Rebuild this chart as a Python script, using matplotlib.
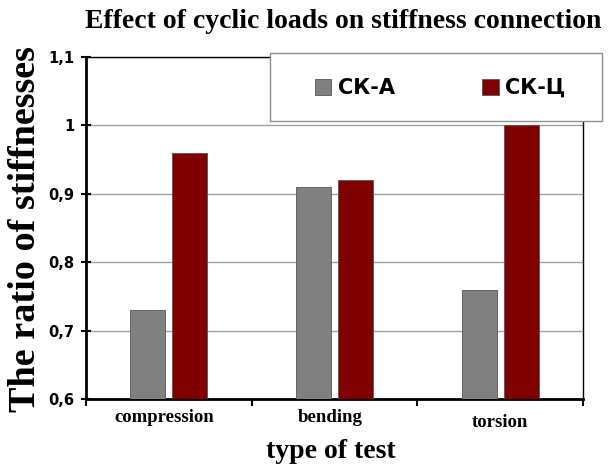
import numpy as np
import matplotlib
matplotlib.use("Agg")
import matplotlib.pyplot as plt
import matplotlib.transforms as mtransforms
from matplotlib.patches import Rectangle

# data
tests = ['compression', 'bending', 'torsion']
series = ['СК-А', 'СК-Ц']
ck_a = [0.73, 0.91, 0.76]
ck_c = [0.96, 0.92, 1.00]
yticks = [0.6, 0.7, 0.8, 0.9, 1.0, 1.1]
ytick_labels = ['0,6', '0,7', '0,8', '0,9', '1', '1,1']

colors = ['#808080', '#800000']
serif = 'Liberation Serif'

fig = plt.figure(figsize=(6.08, 4.70), dpi=100)
ax = fig.add_axes([86/608, 1-399/470, 497/608, 342/470])

x = np.arange(len(tests)) + 0.5
w = 0.21
b1 = ax.bar(x - 0.127, np.array(ck_a) - 0.6, w, bottom=0.6, color=colors[0],
            edgecolor='#555555', linewidth=0.6, zorder=3, label=series[0])
b2 = ax.bar(x + 0.127, np.array(ck_c) - 0.6, w, bottom=0.6, color=colors[1],
            edgecolor='#555555', linewidth=0.6, zorder=3, label=series[1])

ax.set_xlim(0, 3)
ax.set_ylim(0.6, 1.1)
ax.set_yticks(yticks)
ax.set_yticklabels(ytick_labels, fontsize=10.5, fontweight='bold', family='DejaVu Sans')
ax.yaxis.grid(True, color='#a0a0a0', linewidth=1.0, zorder=0)
ax.set_axisbelow(True)

ax.set_xticks([0, 1, 2, 3])
ax.set_xticklabels([])
ax.set_xticks(x, minor=True)
ax.set_xticklabels(tests, minor=True, fontsize=13.5, fontweight='bold', family=serif)
ax.tick_params(axis='x', which='minor', length=0, pad=7)
ax.tick_params(axis='x', which='major', direction='out', length=5, width=1.5)
ax.tick_params(axis='y', direction='inout', length=7, width=1.5, pad=5)

# small shifts of the category labels as in the reference
shifts = [(-5, 0), (-4, 0), (0, -5)]
for lab, (dx, dy) in zip(ax.get_xticklabels(minor=True), shifts):
    lab.set_transform(lab.get_transform() + mtransforms.ScaledTranslation(dx/100, dy/100, fig.dpi_scale_trans))

for s in ['left', 'bottom']:
    ax.spines[s].set_linewidth(2)
for s in ['top', 'right']:
    ax.spines[s].set_linewidth(1)

fig.text(343/608, 1-22/470, 'Effect of cyclic loads on stiffness connection',
         ha='center', va='center', fontsize=20, fontweight='bold', family=serif)
fig.text(26/608, 1-229/470, 'The ratio of stiffnesses', rotation=90,
         ha='center', va='center', fontsize=27.5, fontweight='bold', family=serif)
fig.text(331/608, 1-451/470, 'type of test', ha='center', va='center',
         fontsize=20, fontweight='bold', family=serif)

# legend box
box = Rectangle((270/608, 1-121/470), 332/608, 68/470, transform=fig.transFigure,
                facecolor='white', edgecolor='#909090', linewidth=1, zorder=4)
fig.patches.append(box)
leg = fig.legend(handles=[b1, b2], ncol=2, loc='center',
                 bbox_to_anchor=(440/608, 1-88/470),
                 prop={'family': 'DejaVu Sans', 'weight': 'bold', 'size': 15},
                 handlelength=0.8, handleheight=0.8, handletextpad=0.3,
                 columnspacing=4.2, frameon=False)
leg.set_zorder(5)

fig.savefig('out.png', dpi=100)
